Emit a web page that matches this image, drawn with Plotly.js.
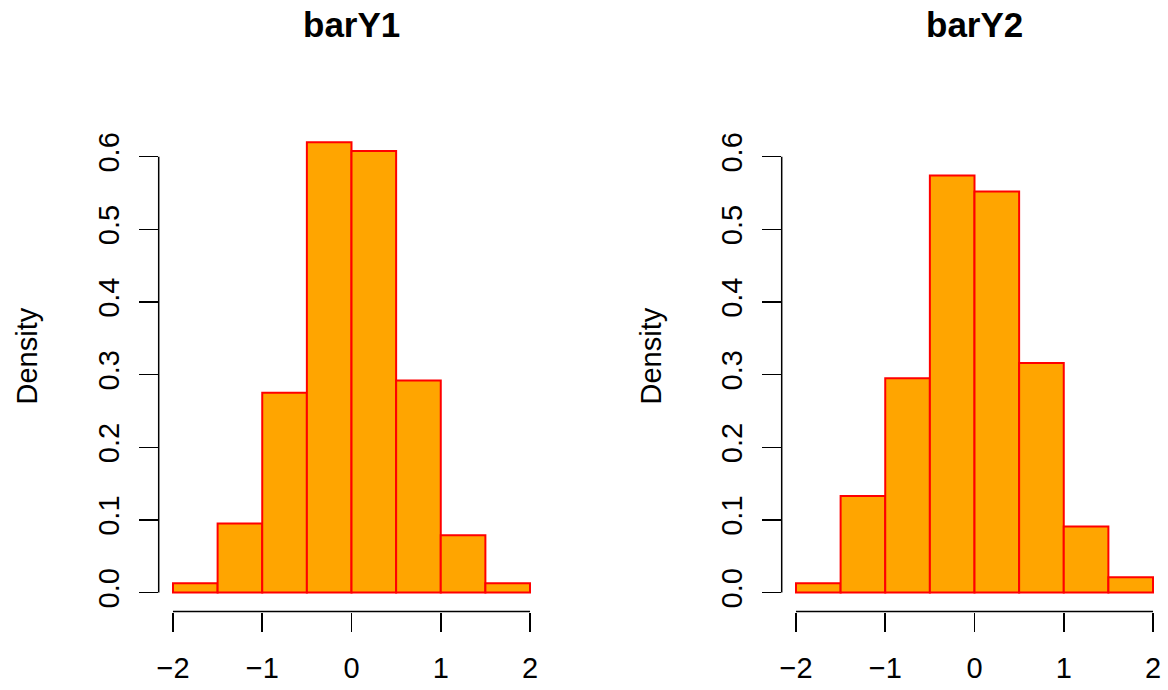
<!DOCTYPE html>
<html>
<head>
<meta charset="utf-8">
<script src="https://cdn.plot.ly/plotly-3.0.1.min.js"></script>
<style>html,body{margin:0;padding:0;background:#fff;}#chart{width:1168px;height:690px;}</style>
</head>
<body>
<div id="chart"></div>
<script>
// ---- data ----
const titles = ["barY1", "barY2"];
const breaks = [-2, -1.5, -1, -0.5, 0, 0.5, 1, 1.5, 2];
const densityY1 = [0.013, 0.095, 0.275, 0.620, 0.608, 0.292, 0.079, 0.013];
const densityY2 = [0.013, 0.133, 0.295, 0.574, 0.552, 0.316, 0.091, 0.021];
const xTicks = [-2, -1, 0, 1, 2];
const yTicks = [0, 0.1, 0.2, 0.3, 0.4, 0.5, 0.6];
const yLabel = "Density";

// ---- build ----
const mids = breaks.slice(0, -1).map((b, i) => (b + breaks[i + 1]) / 2);
const widths = breaks.slice(0, -1).map((b, i) => breaks[i + 1] - b);
const series = [densityY1, densityY2];

const W = 1168, H = 690;
const xDomains = [[158.7 / W, 544.3 / W], [781.7 / W, 1167.3 / W]];
const yDomain = [(H - 611.5) / H, (H - 101.5) / H];
const xRange = [-2.16, 2.16];
const yRange = [-0.026, 0.676];
const font = "Liberation Sans, Arial, Helvetica, sans-serif";

const traces = series.map((vals, k) => ({
  type: "bar",
  x: mids,
  y: vals,
  width: widths,
  xaxis: k === 0 ? "x" : "x2",
  yaxis: k === 0 ? "y" : "y2",
  marker: { color: "#FFA500", line: { color: "#FF0000", width: 2 } },
  hoverinfo: "x+y",
  showlegend: false
}));

const layout = {
  width: W, height: H,
  margin: { l: 0, r: 0, t: 0, b: 0 },
  paper_bgcolor: "#fff", plot_bgcolor: "#fff",
  bargap: 0,
  font: { family: font, color: "#000", size: 29 },
  shapes: [],
  annotations: []
};

[0, 1].forEach(k => {
  const sx = k === 0 ? "" : "2";
  layout["xaxis" + sx] = {
    domain: xDomains[k], range: xRange, anchor: "y" + sx,
    tickmode: "array", tickvals: xTicks,
    ticks: "outside", ticklen: 19, tickwidth: 1.5, tickcolor: "#000",
    showline: false, showgrid: false, zeroline: false,
    tickfont: { family: font, size: 29, color: "#000" },
    ticklabelstandoff: 12
  };
  layout["yaxis" + sx] = {
    domain: yDomain, range: yRange, anchor: "x" + sx,
    tickmode: "array", tickvals: yTicks, tickformat: ".1f",
    ticks: "outside", ticklen: 19, tickwidth: 1.5, tickcolor: "#000",
    tickangle: -90,
    showline: false, showgrid: false, zeroline: false,
    tickfont: { family: font, size: 29, color: "#000" },
    ticklabelstandoff: 8
  };
  // axis lines spanning first to last tick (R style)
  layout.shapes.push({
    type: "line", xref: "x" + sx, yref: "y" + sx + " domain",
    x0: xTicks[0], x1: xTicks[xTicks.length - 1], y0: 0, y1: 0,
    line: { color: "#000", width: 1.5 }
  });
  layout.shapes.push({
    type: "line", xref: "x" + sx + " domain", yref: "y" + sx,
    x0: 0, x1: 0, y0: yTicks[0], y1: yTicks[yTicks.length - 1],
    line: { color: "#000", width: 1.5 }
  });
  // titles
  layout.annotations.push({
    text: "<b>" + titles[k] + "</b>", xref: "paper", yref: "paper",
    x: (xDomains[k][0] + xDomains[k][1]) / 2, y: (H - 24) / H,
    xanchor: "center", yanchor: "middle", showarrow: false,
    font: { family: font, size: 35, color: "#000" }
  });
  layout.annotations.push({
    text: yLabel, xref: "paper", yref: "paper",
    x: (k === 0 ? 27 : 651) / W, y: (yDomain[0] + yDomain[1]) / 2,
    xanchor: "center", yanchor: "middle", textangle: -90, showarrow: false,
    font: { family: font, size: 29, color: "#000" }
  });
});

Plotly.newPlot("chart", traces, layout, { displayModeBar: false, staticPlot: true });
</script>
</body>
</html>
